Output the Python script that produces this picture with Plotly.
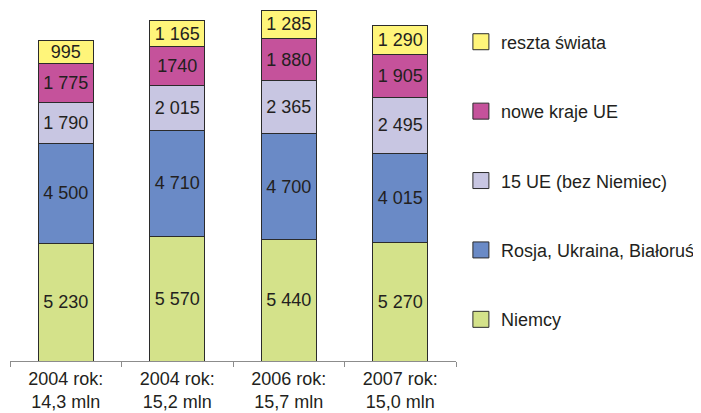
import plotly.graph_objects as go

# categories (x tick labels)
categories = ["2004 rok:<br>14,3 mln", "2004 rok:<br>15,2 mln",
              "2006 rok:<br>15,7 mln", "2007 rok:<br>15,0 mln"]

niemcy = [5230, 5570, 5440, 5270]
rosja = [4500, 4710, 4700, 4015]
ue15 = [1790, 2015, 2365, 2495]
nowe_ue = [1775, 1740, 1880, 1905]
reszta = [995, 1165, 1285, 1290]

# labels as printed on the bars
nowe_ue_labels = ["1 775", "1740", "1 880", "1 905"]

colors = {
    'niemcy': '#D4E28A',
    'rosja': '#6A8AC6',
    'ue15': '#C8C6E2',
    'nowe': '#C5529B',
    'reszta': '#FFF57A',
    'text': '#231F20',
    'axis': '#8C8C8C',
    'edge': '#2B2B2B',
}

def fmt(v):
    return f"{v:,}".replace(",", " ")

series = [
    ("Niemcy", niemcy, [fmt(v) for v in niemcy], colors['niemcy']),
    ("Rosja, Ukraina, Białoruś", rosja, [fmt(v) for v in rosja], colors['rosja']),
    ("15 UE (bez Niemiec)", ue15, [fmt(v) for v in ue15], colors['ue15']),
    ("nowe kraje UE", nowe_ue, nowe_ue_labels, colors['nowe']),
    ("reszta świata", reszta, [fmt(v) for v in reszta], colors['reszta']),
]

fig = go.Figure()
for name, vals, labels, col in series:
    fig.add_trace(go.Bar(
        x=categories, y=vals, name=name, showlegend=False,
        text=labels, textposition="inside", insidetextanchor="middle",
        textangle=0, textfont=dict(size=18, color=colors['text']),
        marker=dict(color=col, line=dict(color=colors['edge'], width=1)),
    ))

# legend entries with bigger square swatches, top item = last series
for name, vals, labels, col in reversed(series):
    fig.add_trace(go.Scatter(
        x=[None], y=[None], mode="markers", name=name, legendgroup=name,
        marker=dict(symbol="square", size=16, color=col,
                    line=dict(color=colors['edge'], width=1)),
    ))

# page body has an 8px margin, so the figure is offset a little
fig.update_layout(
    barmode="stack", bargap=0.51,
    width=701, height=413,
    margin=dict(l=2, r=253, t=0, b=60),
    paper_bgcolor="white", plot_bgcolor="white",
    font=dict(family="Liberation Sans, Arial", size=18, color=colors['text']),
    uniformtext=dict(minsize=18, mode="show"),
    legend=dict(x=1.011, xanchor="left", y=0.956, yanchor="top",
                traceorder="grouped", tracegroupgap=43,
                font=dict(size=18, color=colors['text'])),
    showlegend=True,
)
fig.update_xaxes(showline=True, linecolor=colors['axis'], linewidth=1,
                 ticks="outside", tickson="boundaries", ticklen=5,
                 tickcolor=colors['axis'], showgrid=False, automargin=False,
                 range=[-0.5, 3.5], ticklabelstandoff=1,
                 tickfont=dict(size=18, color=colors['text']))
fig.update_yaxes(visible=False, range=[0, 15760], automargin=False)

fig.write_html("out.html")
